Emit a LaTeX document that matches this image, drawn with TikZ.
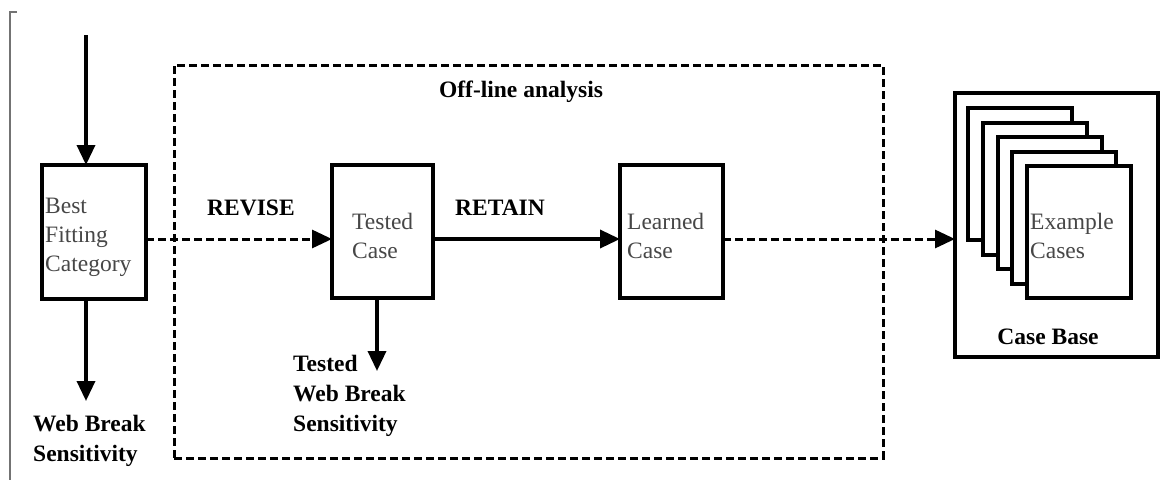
\documentclass[tikz,border=0pt]{standalone}
\usepackage{fontspec}
\setmainfont{Liberation Serif}
\usetikzlibrary{arrows.meta}
\begin{document}
\begin{tikzpicture}[x=1pt,y=-1pt,
  box/.style={draw,line width=4pt,minimum width=#1,inner sep=0pt,outer sep=0pt,fill=white},
  boxtxt/.style={anchor=base west,inner sep=0pt,text=black!72,font=\fontsize{23.5}{29}\selectfont,align=left},
  boldtxt/.style={anchor=base west,inner sep=0pt,font=\bfseries\fontsize{23.5}{30}\selectfont,align=left},
  arr/.style={line width=3.5pt,-{Triangle[length=20pt,width=18pt]}},
  darr/.style={line width=3pt,dash pattern=on 8pt off 4pt,-{Triangle[length=20pt,width=18pt]}},
  bracket/.style={draw=black!55,line width=1.5pt}
]
\useasboundingbox (0,0) rectangle (1171,480);
% left bracket
\draw[bracket] (17,12) -- (10,12) -- (10,480);
% off-line dashed frame
\node[draw,line width=3pt,dash pattern=on 8pt off 4pt,minimum width=709pt,minimum height=393pt,inner sep=0pt] (offline) at (528.5,261.5) {};
\node[boldtxt,anchor=base] (offtitle) at (521,97) {Off-line analysis};
% boxes
\node[box=104pt,minimum height=134pt] (best) at (94,232) {};
\node[box=101pt,minimum height=133pt] (tested) at (382.5,231.5) {};
\node[box=103pt,minimum height=133pt] (learned) at (671.5,231.5) {};
\node[box=203pt,minimum height=264pt] (casebase) at (1056.5,225) {};
\node[box=104pt,minimum height=132pt] (ex1) at (1020,174) {};
\node[box=104pt,minimum height=132pt] (ex2) at (1034.8,188.6) {};
\node[box=104pt,minimum height=132pt] (ex3) at (1049.6,203.2) {};
\node[box=104pt,minimum height=132pt] (ex4) at (1064.4,217.8) {};
\node[box=104pt,minimum height=132pt] (ex5) at (1079.2,232.4) {};
% box texts (anchor at baseline of last line)
\node[boxtxt] (besttxt) at (45,271) {Best\\Fitting\\Category};
\node[boxtxt] (testedtxt) at (352,258) {Tested\\Case};
\node[boxtxt] (learnedtxt) at (627,258) {Learned\\Case};
\node[boxtxt] (extxt) at (1030,258) {Example\\Cases};
\node[boldtxt,anchor=base] (cbtxt) at (1048,344) {Case Base};
% labels
\node[boldtxt] (revise) at (207,215) {REVISE};
\node[boldtxt] (retain) at (455,215) {RETAIN};
\node[boldtxt] (wbs) at (33,461) {Web Break\\Sensitivity};
\node[boldtxt] (twbs) at (293,431) {Tested\\Web Break\\Sensitivity};
% connectors
\coordinate (in) at (86,35);
\coordinate (wbtip) at (86,401);
\coordinate (twbtip) at (377,371);
\draw[arr] (in) -- (in |- best.north);
\draw[arr] (in |- best.south) -- (wbtip);
\draw[arr] (twbtip |- tested.south) -- (twbtip);
\draw[darr] ([yshift=-7pt]best.east) -- ([yshift=-7.5pt]tested.west);
\draw[arr] ([yshift=-7.5pt]tested.east) -- ([yshift=-7.5pt]learned.west);
\draw[darr] ([yshift=-7.5pt]learned.east) -- (casebase.west |- 0,239);
\end{tikzpicture}
\end{document}
